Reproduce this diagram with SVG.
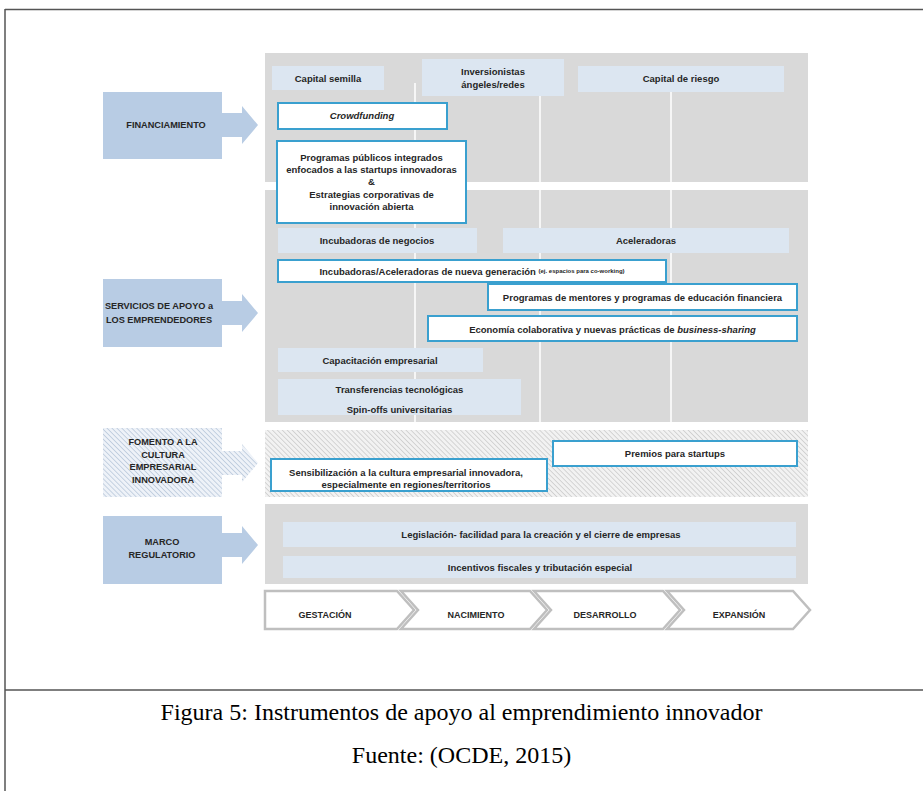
<svg xmlns="http://www.w3.org/2000/svg" width="923" height="791" viewBox="0 0 923 791">
<style>
.t{font-family:"Liberation Sans",Arial,sans-serif;font-weight:bold;font-size:9.5px;fill:#262626;text-anchor:middle;dominant-baseline:central}
.tl{font-size:9px}
.lt{font-family:"Liberation Sans",Arial,sans-serif;font-weight:bold;font-size:9.2px;fill:#262626;text-anchor:middle;dominant-baseline:central}
.cap{font-family:"Liberation Serif","Times New Roman",serif;font-size:24px;fill:#000;text-anchor:middle}
.lb{fill:#dce6f1}
.bb{fill:#ffffff;stroke:#3aa0cf;stroke-width:2}
.panel{fill:#d9d9d9}
.vl{stroke:#ffffff;stroke-width:1.5}
.arr{fill:#b8cce4}
.seg{fill:#ffffff;stroke:#bfbfbf;stroke-width:2.5;stroke-linejoin:miter}
.frame{stroke:#555;stroke-width:1.5;fill:none}
</style>
<defs>
<pattern id="hatchG" width="3.5" height="3.5" patternUnits="userSpaceOnUse" patternTransform="rotate(-45)">
<rect width="3.5" height="3.5" fill="#f2f2f2"/>
<line x1="0" y1="0" x2="0" y2="3.5" stroke="#c0c0c0" stroke-width="1.2"/>
</pattern>
<pattern id="hatchB" width="3.5" height="3.5" patternUnits="userSpaceOnUse" patternTransform="rotate(-45)">
<rect width="3.5" height="3.5" fill="#eef2f8"/>
<line x1="0" y1="0" x2="0" y2="3.5" stroke="#a9bcd3" stroke-width="1.2"/>
</pattern>
</defs>
<rect width="923" height="791" fill="#ffffff"/>
<g id="frame">
<path class="frame" d="M5,9.5 H923 M5,9 V791 M5,690 H923"/>
</g>
<g id="panels">
<rect class="panel" x="265" y="53" width="543" height="129"/>
<rect class="panel" x="265" y="190" width="543" height="232"/>
<rect x="265" y="430" width="543" height="67" fill="url(#hatchG)"/>
<rect class="panel" x="265" y="504" width="543" height="80"/>
<line class="vl" x1="415" y1="83" x2="415" y2="182"/>
<line class="vl" x1="540" y1="96" x2="540" y2="182"/>
<line class="vl" x1="671" y1="92" x2="671" y2="182"/>
<line class="vl" x1="415" y1="190" x2="415" y2="422"/>
<line class="vl" x1="540" y1="190" x2="540" y2="422"/>
<line class="vl" x1="671" y1="190" x2="671" y2="422"/>
</g>
<g id="connectors">
<polygon class="arr" points="222,113 242,113 242,106 258,125 242,144 242,137 222,137"/>
<polygon class="arr" points="222,301 242,301 242,294 258,313 242,332 242,325 222,325"/>
<polygon fill="url(#hatchB)" points="222,451 242,451 242,444 258,463 242,482 242,475 222,475"/>
<polygon class="arr" points="222,533 242,533 242,526 258,545 242,564 242,557 222,557"/>
</g>
<g id="financiamiento">
<rect class="arr" x="103" y="92" width="119" height="67"/>
<text class="lt" x="166" y="125">FINANCIAMIENTO</text>
</g>
<g id="servicios">
<rect class="arr" x="103" y="279" width="119" height="68"/>
<text class="lt" x="159" y="306">SERVICIOS DE APOYO a</text>
<text class="lt" x="159" y="320">LOS EMPRENDEDORES</text>
</g>
<g id="fomento">
<rect x="103" y="428" width="119" height="69" fill="url(#hatchB)"/>
<text class="lt" x="163" y="442">FOMENTO A LA</text>
<text class="lt" x="163" y="455">CULTURA</text>
<text class="lt" x="163" y="467">EMPRESARIAL</text>
<text class="lt" x="163" y="480">INNOVADORA</text>
</g>
<g id="marco">
<rect class="arr" x="103" y="516" width="119" height="68"/>
<text class="lt" x="162" y="542">MARCO</text>
<text class="lt" x="162" y="555">REGULATORIO</text>
</g>
<g id="capital-semilla">
<rect class="lb" x="272" y="66" width="112" height="24"/>
<text class="t" x="328" y="78">Capital semilla</text>
</g>
<g id="inversionistas">
<rect class="lb" x="422" y="59" width="142" height="37"/>
<text class="t" x="493" y="71">Inversionistas</text>
<text class="t" x="493" y="84">ángeles/redes</text>
</g>
<g id="capital-riesgo">
<rect class="lb" x="578" y="66" width="206" height="26"/>
<text class="t" x="681" y="78">Capital de riesgo</text>
</g>
<g id="crowdfunding">
<rect class="bb" x="278" y="103" width="169" height="26"/>
<text class="t" x="362" y="115" font-style="italic">Crowdfunding</text>
</g>
<g id="programas-publicos">
<rect class="bb" x="277" y="141" width="189" height="82"/>
<text class="t" x="371.5" y="157">Programas públicos integrados</text>
<text class="t" x="371.5" y="169">enfocados a las startups innovadoras</text>
<text class="t" x="371.5" y="181">&amp;</text>
<text class="t" x="371.5" y="194">Estrategias corporativas de</text>
<text class="t" x="371.5" y="206">innovación abierta</text>
</g>
<g id="incubadoras">
<rect class="lb" x="278" y="228" width="199" height="25"/>
<text class="t" x="377" y="240">Incubadoras de negocios</text>
</g>
<g id="aceleradoras">
<rect class="lb" x="503" y="228" width="286" height="25"/>
<text class="t" x="646" y="240">Aceleradoras</text>
</g>
<g id="nueva-generacion">
<rect class="bb" x="278" y="260" width="388" height="22"/>
<text class="t" x="472" y="271" font-size="10.3px">Incubadoras/Aceleradoras de nueva generación <tspan font-size="6px">(ej. espacios para co-working)</tspan></text>
</g>
<g id="mentores">
<rect class="bb" x="488" y="284" width="309" height="26"/>
<text class="t" x="642.5" y="297">Programas de mentores y programas de educación financiera</text>
</g>
<g id="economia-colaborativa">
<rect class="bb" x="428" y="316" width="369" height="25"/>
<text class="t" x="612.5" y="329">Economía colaborativa y nuevas prácticas de <tspan font-style="italic">business-sharing</tspan></text>
</g>
<g id="capacitacion">
<rect class="lb" x="278" y="348" width="205" height="24"/>
<text class="t" x="380" y="360">Capacitación empresarial</text>
</g>
<g id="transferencias">
<rect class="lb" x="278" y="379" width="243" height="36"/>
<text class="t" x="399.5" y="389">Transferencias tecnológicas</text>
<text class="t" x="399.5" y="409">Spin-offs universitarias</text>
</g>
<g id="premios">
<rect class="bb" x="553" y="441" width="244" height="25"/>
<text class="t" x="675" y="453">Premios para startups</text>
</g>
<g id="sensibilizacion">
<rect class="bb" x="271" y="459" width="276" height="32"/>
<text class="t" x="406" y="472" font-size="10.5px">Sensibilización a la cultura empresarial innovadora,</text>
<text class="t" x="406" y="484" font-size="10.5px">especialmente en regiones/territorios</text>
</g>
<g id="legislacion">
<rect class="lb" x="283" y="522" width="513" height="25"/>
<text class="t" x="541" y="534">Legislación- facilidad para la creación y el cierre de empresas</text>
</g>
<g id="incentivos">
<rect class="lb" x="283" y="556" width="513" height="22"/>
<text class="t" x="540" y="567">Incentivos fiscales y tributación especial</text>
</g>
<g id="timeline">
<polygon class="seg" points="265,591 397,591 414,610 397,629 265,629"/>
<polygon class="seg" points="401,591 530,591 547,610 530,629 401,629 418,610"/>
<polygon class="seg" points="534,591 663,591 680,610 663,629 534,629 551,610"/>
<polygon class="seg" points="667,591 793,591 810,610 793,629 667,629 684,610"/>
<text class="t tl" x="325" y="615">GESTACIÓN</text>
<text class="t tl" x="476" y="615">NACIMIENTO</text>
<text class="t tl" x="605" y="615">DESARROLLO</text>
<text class="t tl" x="739" y="615">EXPANSIÓN</text>
</g>
<g id="caption">
<text class="cap" x="461.5" y="720">Figura 5: Instrumentos de apoyo al emprendimiento innovador</text>
<text class="cap" x="461.5" y="763">Fuente: (OCDE, 2015)</text>
</g>
</svg>
